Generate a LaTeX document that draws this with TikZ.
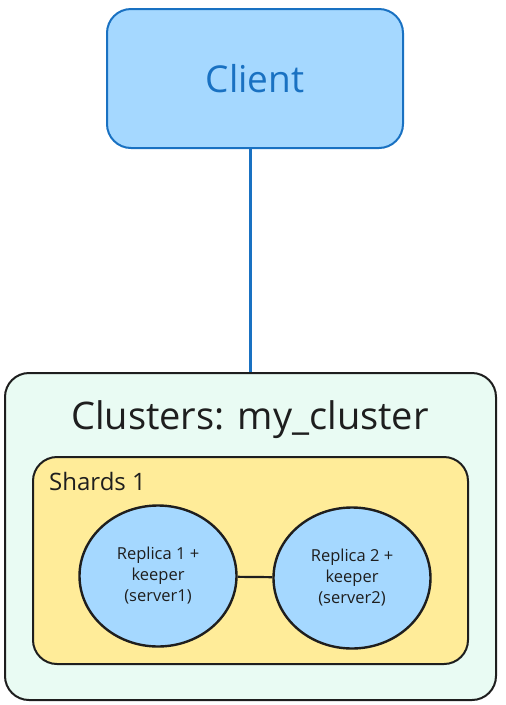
\documentclass[tikz,border=0pt]{standalone}
\usepackage{fontspec}
\setmainfont{Open Sans}
\usetikzlibrary{shapes.geometric}
\definecolor{cblue}{HTML}{A5D8FF}
\definecolor{cblueline}{HTML}{1971C2}
\definecolor{cmint}{HTML}{E9FBF3}
\definecolor{cyellow}{HTML}{FFEC99}
\definecolor{cdark}{HTML}{1E1E1E}
\tikzset{
  clientbox/.style={draw=cblueline, fill=cblue, line width=2pt, rounded corners=24pt,
    minimum width=296pt, minimum height=139pt, inner sep=0pt, text=cblueline,
    font=\fontsize{37}{40}\selectfont},
  clusterbox/.style={draw=cdark, fill=cmint, line width=2pt, rounded corners=24pt,
    minimum width=491pt, minimum height=327pt, inner sep=0pt},
  shardbox/.style={draw=cdark, fill=cyellow, line width=2pt, rounded corners=24pt,
    minimum width=435pt, minimum height=207pt, inner sep=0pt},
  replica/.style={ellipse, draw=cdark, fill=cblue, line width=2.4pt,
    minimum width=157pt, minimum height=141pt, inner sep=0pt, align=center,
    text=cdark, font=\fontsize{16.5}{21}\selectfont},
  link/.style={line width=2.2pt},
}
\begin{document}
\begin{tikzpicture}[x=1pt,y=-1pt]
\useasboundingbox (0,0) rectangle (506,705);
\node[clientbox] (client) at (255,78.5) {Client};
\node[clusterbox] (cluster) at (250.5,536.5) {};
\node[text=cdark, font=\fontsize{38}{42}\selectfont] (title) at (250,420) {Clusters: my\_cluster};
\node[shardbox] (shard) at (250.5,560.5) {};
\node[text=cdark, anchor=west, inner sep=0pt, font=\fontsize{24}{26}\selectfont] (shardlabel) at (49,481) {Shards 1};
\node[replica] (r1) at (158,576) {Replica 1 +\\keeper\\(server1)};
\node[replica] (r2) at (352,578) {Replica 2 +\\keeper\\(server2)};
\draw[link, draw=cblueline] (cluster.north |- client.south) -- (cluster.north);
\draw[link, draw=cdark] (r1) -- (r2);
\end{tikzpicture}
\end{document}
